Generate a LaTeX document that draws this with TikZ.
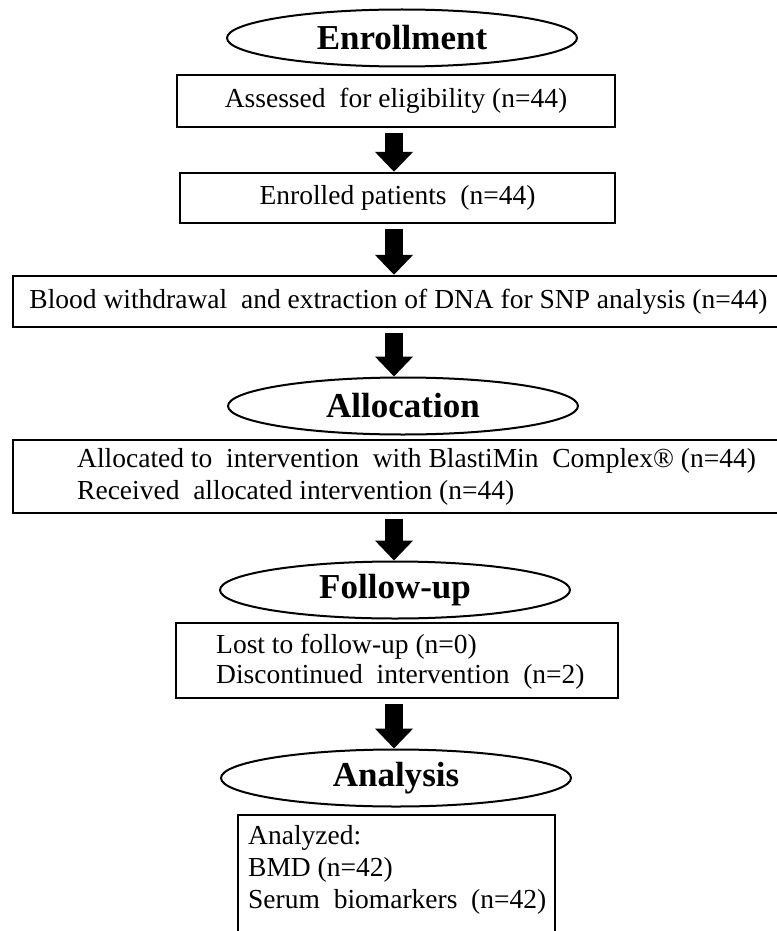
\documentclass[tikz,border=0pt]{standalone}
\usepackage{fontspec}
\setmainfont{Liberation Serif}
\usetikzlibrary{shapes.geometric,arrows.meta}
\tikzset{
  stage/.style={draw, ellipse, line width=2pt, minimum width=350pt,
    minimum height=57pt, inner sep=0pt, font=\fontsize{35}{40}\selectfont\bfseries},
  stepbox/.style={draw, rectangle, line width=2.4pt, inner sep=0pt,
    font=\fontsize{27.5}{32}\selectfont},
  txt/.style={anchor=west, align=left, inner sep=0pt, font=\fontsize{27.5}{32}\selectfont},
  fat/.style={line width=18pt, -{Triangle[width=37pt,length=20pt]}, shorten <=5pt},
}
\begin{document}
\begin{tikzpicture}[x=1pt,y=-1pt]
  \useasboundingbox (0,0) rectangle (776,931);
  \coordinate (mid) at (394,0);
  % enrollment
  \node[stage] (enroll) at (402,38) {Enrollment};
  \node[stepbox, minimum width=438pt, minimum height=52pt] (assess) at (396,101)
    {Assessed~~for eligibility~(n=44)};
  \node[stepbox, minimum width=435pt, minimum height=50pt] (enrol) at (397.5,198)
    {Enrolled patients~~(n=44)};
  \node[stepbox, minimum width=765pt, minimum height=51pt] (blood) at (395.5,301.5)
    {\hspace{6pt}Blood withdrawal~~and extraction~of DNA for SNP analysis~(n=44)};
  % allocation
  \node[stage] (alloc) at (403,406) {Allocation};
  \node[stepbox, minimum width=765pt, minimum height=73pt] (given) at (395.5,476.5) {};
  \node[txt] (givenTxt) at (77,477)
    {Allocated to~~intervention~~with~BlastiMin~~Complex®~(n=44)\\
     Received~~allocated~intervention~(n=44)};
  % follow-up
  \node[stage] (follow) at (395,590) {Follow-up};
  \node[stepbox, minimum width=442pt, minimum height=75pt] (lost) at (397,660.5) {};
  \node[txt] (lostTxt) at (216,662)
    {Lost to follow-up (n=0)\\[-2pt]
     Discontinued~~intervention~~(n=2)};
  % analysis
  \node[stage] (analysis) at (396,778) {Analysis};
  \node[stepbox, minimum width=317pt, minimum height=130pt] (done) at (396.5,880) {};
  \node[txt] (doneTxt) at (248,870)
    {Analyzed:\\
     BMD (n=42)\\
     Serum~~biomarkers~~(n=42)};
  % arrows
  \draw[fat] (assess.south -| mid) -- (enrol.north -| mid);
  \draw[fat] (enrol.south -| mid) -- (blood.north -| mid);
  \draw[fat] (blood.south -| mid) -- (alloc.north -| mid);
  \draw[fat] (given.south -| mid) -- (follow.north -| mid);
  \draw[fat] (lost.south -| mid) -- (analysis.north -| mid);
\end{tikzpicture}
\end{document}
